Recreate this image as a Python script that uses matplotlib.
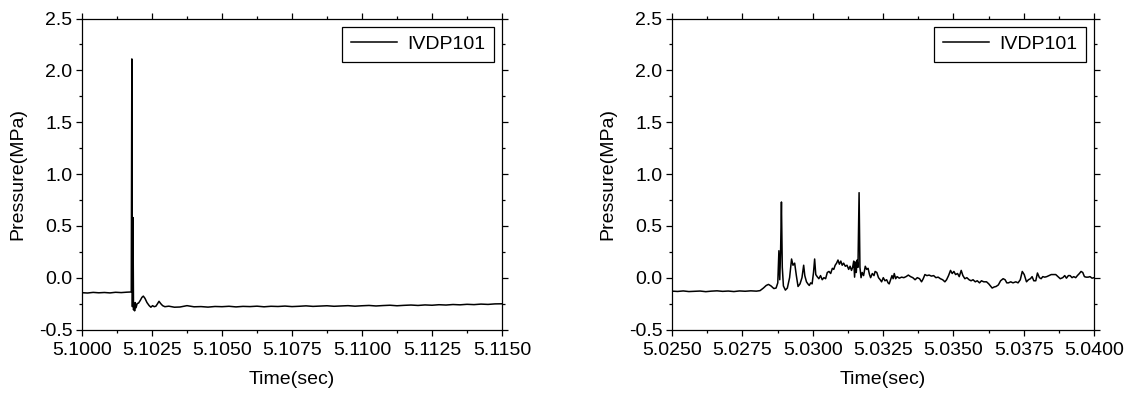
import matplotlib
matplotlib.use("Agg")
import matplotlib.pyplot as plt
from matplotlib.ticker import MultipleLocator, FormatStrFormatter

plt.rcParams['font.family'] = ['Liberation Sans', 'DejaVu Sans']
plt.rcParams['font.size'] = 14

series_name = "IVDP101"
x_label = "Time(sec)"
y_label = "Pressure(MPa)"

# ---- left panel data ----
t_left = [5.1000, 5.1002, 5.1004, 5.1006, 5.1008, 5.1010, 5.1012, 5.1014, 5.1016, 5.10176,
          5.10178, 5.10180, 5.10182, 5.10184, 5.10186, 5.10188, 5.10190, 5.10193, 5.10197,
          5.10202, 5.10208, 5.10214, 5.10219, 5.10225, 5.10232, 5.10240, 5.10246, 5.10252,
          5.10258, 5.10264, 5.10270, 5.10275, 5.10281, 5.10288, 5.10296, 5.10310, 5.10330,
          5.10350, 5.10375, 5.10400, 5.10425, 5.10450, 5.10475, 5.10500, 5.10525, 5.10550,
          5.10575, 5.10600, 5.10625, 5.10650, 5.10675, 5.10700, 5.10725, 5.10750, 5.10775,
          5.10800, 5.10825, 5.10850, 5.10875, 5.10900, 5.10925, 5.10950, 5.10975, 5.11000,
          5.11025, 5.11050, 5.11075, 5.11100, 5.11125, 5.11150, 5.11175, 5.11200, 5.11225,
          5.11250, 5.11275, 5.11300, 5.11325, 5.11350, 5.11375, 5.11400, 5.11425, 5.11450,
          5.11475, 5.11500]
p_left = [-0.145, -0.148, -0.142, -0.146, -0.143, -0.147, -0.141, -0.144, -0.140, -0.138,
          2.11, -0.28, 0.58, -0.31, -0.26, -0.32, -0.24, -0.29, -0.25,
          -0.245, -0.22, -0.19, -0.178, -0.20, -0.24, -0.27, -0.285, -0.27,
          -0.28, -0.275, -0.25, -0.228, -0.25, -0.27, -0.28, -0.275, -0.285,
          -0.283, -0.270, -0.281, -0.279, -0.284, -0.278, -0.280, -0.276, -0.282,
          -0.277, -0.279, -0.275, -0.281, -0.276, -0.278, -0.274, -0.279, -0.276,
          -0.272, -0.277, -0.274, -0.271, -0.276, -0.273, -0.270, -0.275, -0.271,
          -0.268, -0.273, -0.269, -0.266, -0.271, -0.267, -0.264, -0.268, -0.263,
          -0.266, -0.261, -0.264, -0.259, -0.262, -0.257, -0.260, -0.255, -0.258,
          -0.253, -0.252]

# ---- right panel data ----
t_right = [5.0250, 5.0252, 5.0254, 5.0256, 5.0258, 5.0260, 5.0262, 5.0264, 5.0266, 5.0268,
           5.0270, 5.0272, 5.0274, 5.0276, 5.0278, 5.0280, 5.02813, 5.02825, 5.02835, 5.02843,
           5.02852, 5.02862, 5.02870, 5.02876, 5.02880, 5.02883, 5.02886, 5.02889, 5.02892,
           5.02896, 5.02903, 5.02910, 5.02918, 5.02925, 5.02930, 5.02936, 5.02942, 5.02948,
           5.02955, 5.02962, 5.02968, 5.02972, 5.02978, 5.02983, 5.02988, 5.02993, 5.02998,
           5.03003, 5.03007, 5.03011, 5.03016, 5.03022, 5.03028, 5.03034, 5.03040, 5.03046,
           5.03052, 5.03058, 5.03064, 5.03070, 5.03075, 5.03080, 5.03085, 5.03090, 5.03095,
           5.03100, 5.03105, 5.03110, 5.03116, 5.03122, 5.03128, 5.03133, 5.03138, 5.03142,
           5.03146, 5.03149, 5.03152, 5.03155, 5.03158, 5.03161, 5.03165, 5.03168, 5.03172,
           5.03176, 5.03181, 5.03187, 5.03192, 5.03197, 5.03202, 5.03206, 5.03212, 5.03218,
           5.03222, 5.03228, 5.03234, 5.03240, 5.03245, 5.03251, 5.03257, 5.03263, 5.03268,
           5.03272, 5.03277, 5.03282, 5.03286, 5.03290, 5.03295, 5.03300, 5.03308, 5.03316,
           5.03324, 5.03332, 5.03340, 5.03348, 5.03356, 5.03364, 5.03372, 5.03380, 5.03387,
           5.03393, 5.03399, 5.03406, 5.03414, 5.03422, 5.03430, 5.03438, 5.03446, 5.03454,
           5.03462, 5.03470, 5.03476, 5.03483, 5.03490, 5.03496, 5.03502, 5.03508, 5.03515,
           5.03521, 5.03528, 5.03534, 5.03541, 5.03548, 5.03556, 5.03563, 5.03570, 5.03578,
           5.03585, 5.03593, 5.03600, 5.03608, 5.03618, 5.03626, 5.03632, 5.03638, 5.03645,
           5.03652, 5.03660, 5.03668, 5.03677, 5.03684, 5.03690, 5.03696, 5.03704, 5.03712,
           5.03722, 5.03730, 5.03738, 5.03745, 5.03752, 5.03760, 5.03767, 5.03774, 5.03780,
           5.03786, 5.03793, 5.03799, 5.03806, 5.03812, 5.03818, 5.03825, 5.03832, 5.03840,
           5.03848, 5.03856, 5.03864, 5.03872, 5.03880, 5.03889, 5.03896, 5.03902, 5.03909,
           5.03915, 5.03922, 5.03928, 5.03935, 5.03941, 5.03948, 5.03954, 5.03960, 5.03966,
           5.03972, 5.03979, 5.03986, 5.03993, 5.04000]
p_right = [-0.130, -0.133, -0.128, -0.134, -0.131, -0.129, -0.135, -0.130, -0.127, -0.132,
           -0.129, -0.134, -0.128, -0.131, -0.127, -0.130, -0.125, -0.10, -0.075, -0.065,
           -0.08, -0.105, -0.10, -0.05, 0.26, -0.02, 0.25, 0.73, 0.10,
           -0.08, -0.12, -0.10, 0.0, 0.18, 0.12, 0.14, 0.02, -0.085,
           -0.06, 0.0, 0.12, 0.02, -0.04, -0.06, -0.075, -0.05, -0.06,
           0.05, 0.18, 0.03, 0.01, -0.01, 0.02, -0.02, 0.0, -0.01,
           0.05, 0.06, 0.04, 0.09, 0.08, 0.12, 0.14, 0.17, 0.13,
           0.16, 0.12, 0.14, 0.11, 0.12, 0.08, 0.11, 0.07, 0.10,
           0.16, 0.005, 0.15, 0.05, 0.17, 0.10, 0.82, 0.10, 0.0,
           0.05, 0.02, 0.11, 0.08, 0.09, 0.03, 0.0, 0.04, 0.02,
           0.06, 0.05, 0.0, -0.02, -0.04, 0.0, -0.03, -0.02, -0.05,
           -0.06, -0.02, 0.02, -0.01, 0.04, -0.01, 0.01, -0.005, 0.005,
           0.0, 0.01, 0.025, 0.01, 0.0, -0.02, 0.0, -0.01, -0.04,
           -0.01, 0.03, 0.02, 0.025, 0.015, 0.02, 0.0, 0.005, -0.01,
           -0.02, -0.04, -0.02, 0.02, 0.07, 0.04, 0.06, 0.03, 0.04,
           0.01, 0.07, 0.02, -0.01, 0.0, -0.02, -0.03, -0.02, -0.04,
           -0.03, -0.05, -0.03, -0.04, -0.04, -0.06, -0.08, -0.10, -0.09,
           -0.085, -0.07, -0.03, -0.01, -0.02, -0.05, -0.05, -0.04, -0.05,
           -0.04, -0.05, -0.02, 0.06, 0.03, -0.04, -0.02, -0.01, 0.01,
           -0.03, -0.03, 0.045, 0.0, -0.01, 0.01, 0.005, 0.01, 0.02,
           0.03, 0.03, 0.03, 0.01, -0.01, 0.0, 0.02, -0.005, 0.02,
           0.02, 0.0, 0.01, 0.0, 0.02, 0.04, 0.06, 0.05, 0.01,
           0.005, 0.005, 0.01, -0.005, 0.0]

x_ranges = [(5.1000, 5.1150), (5.0250, 5.0400)]
y_range = (-0.5, 2.5)

W, H = 1132, 394
fig = plt.figure(figsize=(W / 100, H / 100), dpi=100)
ax_boxes = [(82, 18.5, 420, 311), (672, 18.5, 422, 311)]

for (t, p), xr, (x0, y0, w, h) in zip([(t_left, p_left), (t_right, p_right)], x_ranges, ax_boxes):
    ax = fig.add_axes([x0 / W, 1 - (y0 + h) / H, w / W, h / H])
    ax.plot(t, p, color='black', lw=1.1, label=series_name)
    ax.set_xlim(*xr)
    ax.set_ylim(*y_range)
    ax.xaxis.set_major_locator(MultipleLocator(0.0025))
    ax.xaxis.set_minor_locator(MultipleLocator(0.00125))
    ax.yaxis.set_major_locator(MultipleLocator(0.5))
    ax.yaxis.set_minor_locator(MultipleLocator(0.25))
    ax.xaxis.set_major_formatter(FormatStrFormatter('%.4f'))
    ax.yaxis.set_major_formatter(FormatStrFormatter('%.1f'))
    ax.tick_params(which='both', direction='out', top=True, right=True, width=0.9)
    ax.tick_params(which='major', length=4, pad=3)
    ax.tick_params(which='minor', length=2.5)
    ax.tick_params(axis='x', which='major', pad=5)
    for s in ax.spines.values():
        s.set_linewidth(0.9)
    ax.set_xlabel(x_label, labelpad=9)
    ax.set_ylabel(y_label, labelpad=9)
    leg = ax.legend(loc='upper right', fancybox=False, framealpha=1, edgecolor='black',
                    handlelength=2.4, handletextpad=0.5, borderaxespad=0.42,
                    borderpad=0.45, fontsize=14)
    leg.get_frame().set_linewidth(0.9)

fig.savefig('out.png', dpi=100)
